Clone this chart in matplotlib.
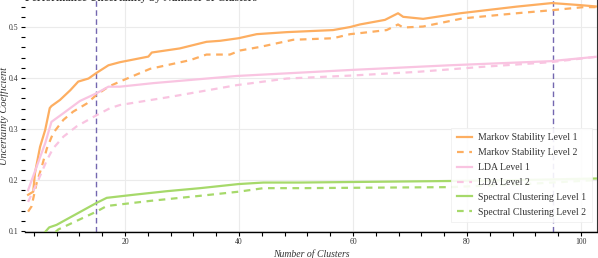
import matplotlib
matplotlib.use("Agg")
import matplotlib.pyplot as plt
from matplotlib.ticker import MultipleLocator

# ---- data ----
mk1_x = [3, 3.9, 4.2, 5.1, 6.0, 6.8, 7.1, 8.6, 10.4, 11.8, 13.6, 15, 17.1, 19.1, 24.1, 24.7,
         29.6, 34.3, 36.7, 39.9, 43.1, 48.4, 56.5, 59.5, 61.2, 65.6, 67.9, 68.8, 72.3, 78.8,
         88.7, 94.9, 99.8, 103]
mk1_y = [0.171, 0.177, 0.213, 0.265, 0.298, 0.341, 0.345, 0.357, 0.376, 0.393, 0.399, 0.410,
         0.425, 0.431, 0.442, 0.450, 0.458, 0.471, 0.473, 0.478, 0.486, 0.490, 0.494, 0.500,
         0.505, 0.514, 0.527, 0.520, 0.516, 0.527, 0.540, 0.547, 0.543, 0.540]

mk2_x = [3, 3.6, 4.5, 5.4, 6.3, 7.4, 9.2, 10.9, 13.3, 15, 17.1, 19.1, 24.4, 31.4, 34.3, 38.4,
         40.2, 43.7, 49.5, 56.5, 59.5, 61.2, 65.9, 67.9, 68.8, 72.3, 79.3, 88.7, 94.9, 100.4, 103]
mk2_y = [0.138, 0.148, 0.194, 0.226, 0.262, 0.292, 0.318, 0.334, 0.350, 0.367, 0.383, 0.393,
         0.418, 0.435, 0.446, 0.446, 0.454, 0.461, 0.475, 0.478, 0.486, 0.488, 0.494, 0.505,
         0.499, 0.501, 0.517, 0.527, 0.533, 0.539, 0.539]

lda1_x = [3, 4.5, 6.0, 7.1, 9.2, 12.1, 15, 17.1, 19.1, 25.0, 39.6, 60, 77, 94.6, 103]
lda1_y = [0.180, 0.226, 0.272, 0.314, 0.331, 0.355, 0.370, 0.383, 0.383, 0.390, 0.404,
          0.416, 0.425, 0.433, 0.442]

lda2_x = [3, 4.8, 6.3, 7.4, 9.2, 11.5, 15, 17.4, 19.1, 27.9, 39.6, 48.4, 60, 71.2, 82.8,
          94.6, 103]
lda2_y = [0.157, 0.200, 0.239, 0.262, 0.285, 0.305, 0.327, 0.341, 0.347, 0.363, 0.386,
          0.399, 0.405, 0.412, 0.422, 0.431, 0.442]

sc1_x = [3, 6.7, 8.0, 15, 16.8, 21.5, 27.3, 33.2, 39.9, 44.3, 50.7, 77, 90, 103]
sc1_y = [0.060, 0.107, 0.112, 0.155, 0.165, 0.171, 0.178, 0.184, 0.192, 0.195, 0.195,
         0.198, 0.200, 0.203]

sc2_x = [3, 8.3, 15, 16.8, 24.4, 33.2, 39.9, 44.3, 50.7, 77, 90, 103]
sc2_y = [0.050, 0.103, 0.138, 0.149, 0.159, 0.169, 0.177, 0.184, 0.184, 0.186, 0.192, 0.200]

vlines_x = [15, 95]

labels = ["Markov Stability Level 1", "Markov Stability Level 2", "LDA Level 1",
          "LDA Level 2", "Spectral Clustering Level 1", "Spectral Clustering Level 2"]

c_mk = "#fdae61"
c_lda = "#f9c4e1"
c_sc = "#a6d96a"
c_v = "#7467b0"

plt.rcParams["font.family"] = ["Liberation Serif", "DejaVu Serif"]

fig = plt.figure(figsize=(5.98, 2.58), dpi=100)
ax = fig.add_axes([25 / 598, 26 / 258, 572 / 598, 232 / 258])

ax.grid(True, which="major", color="#ebebeb", linewidth=0.8, zorder=0)
ax.set_axisbelow(True)

lw = 1.6
ax.plot(mk1_x, mk1_y, color=c_mk, lw=lw, label=labels[0], zorder=3)
ax.plot(mk2_x, mk2_y, color=c_mk, lw=lw, ls=(0, (3, 2.5)), label=labels[1], zorder=3)
ax.plot(lda1_x, lda1_y, color=c_lda, lw=lw, label=labels[2], zorder=3)
ax.plot(lda2_x, lda2_y, color=c_lda, lw=lw, ls=(0, (3, 2.5)), label=labels[3], zorder=3)
ax.plot(sc1_x, sc1_y, color=c_sc, lw=lw, label=labels[4], zorder=3)
ax.plot(sc2_x, sc2_y, color=c_sc, lw=lw, ls=(0, (3, 2.5)), label=labels[5], zorder=3)

for xv in vlines_x:
    ax.axvline(xv, color=c_v, lw=1.0, ls=(0, (4, 2.5)), zorder=2)

ax.set_xlim(2.46, 102.8)
ax.set_ylim(0.098, 0.553)

ax.xaxis.set_major_locator(MultipleLocator(20))
ax.xaxis.set_minor_locator(MultipleLocator(4))
ax.yaxis.set_major_locator(MultipleLocator(0.1))
ax.yaxis.set_minor_locator(MultipleLocator(0.02))
ax.tick_params(axis="both", which="both", labelsize=5.6, length=3, width=0.8, color="black",
               pad=1.5, labelcolor="#333333")
ax.yaxis.set_major_formatter(matplotlib.ticker.FormatStrFormatter("%.1f"))

for s in ["top", "left"]:
    ax.spines[s].set_visible(False)
ax.spines["bottom"].set_color("black")
ax.spines["bottom"].set_linewidth(1.0)
ax.spines["right"].set_color("#333333")
ax.spines["right"].set_linewidth(0.8)

ax.set_xlabel("Number of Clusters", fontsize=7, style="italic", color="#333333")
ax.set_ylabel("Uncertainty Coefficient", fontsize=7.5, style="italic", color="#333333")
# place labels (axes-fraction coordinates)
ax.xaxis.set_label_coords(0.5, -0.095)
ax.yaxis.set_label_coords(-0.0365, 0.5)
ax.xaxis.label.set_verticalalignment("center")
ax.yaxis.label.set_verticalalignment("center")

ax.set_title("Performance Uncertainty by Number of Clusters", loc="left", fontsize=8,
             fontweight="bold", color="#333333", pad=-1, y=1.0)

leg = ax.legend(loc="lower right", bbox_to_anchor=(1.0, 0.02), fontsize=7, frameon=True,
                fancybox=False, framealpha=0.9, edgecolor="#eeeeee", handlelength=1.6,
                labelspacing=0.6, borderpad=0.6, handletextpad=0.6)
leg.get_frame().set_linewidth(0.6)
for t in leg.get_texts():
    t.set_color("#333333")

fig.savefig("out.png", dpi=100)
